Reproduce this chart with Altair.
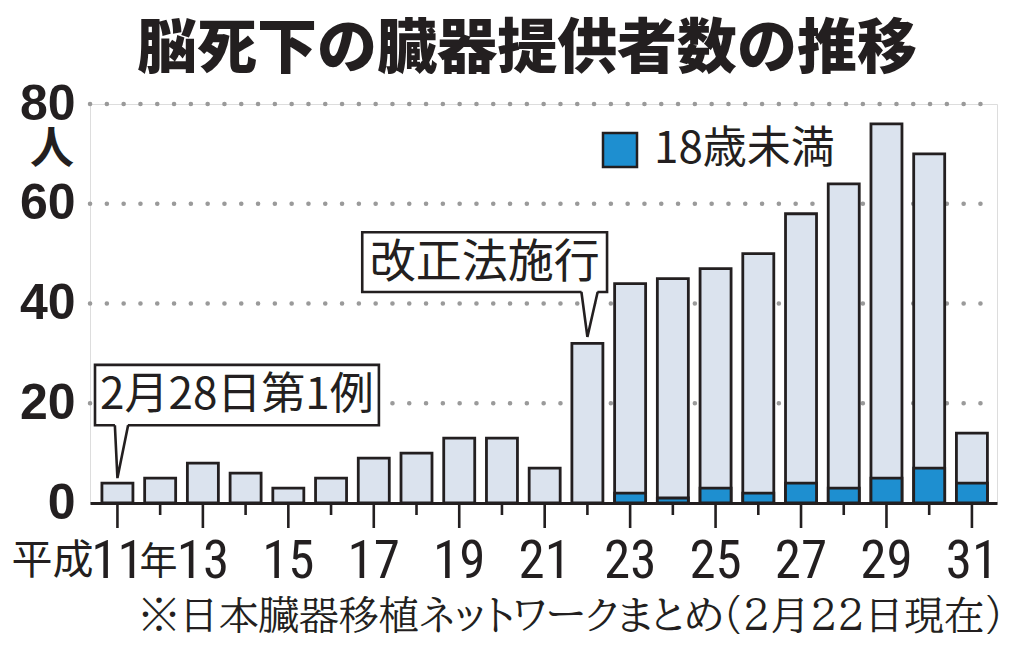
import altair as alt
import pandas as pd

# ---- data ----
years = list(range(11, 32))                       # Heisei 11 .. 31
totals = [4, 5, 8, 6, 3, 5, 9, 10, 13, 13, 7, 32, 44, 45, 47, 50, 58, 64, 76, 70, 14]
under18 = [0, 0, 0, 0, 0, 0, 0, 0, 0, 0, 0, 0, 2, 1, 3, 2, 4, 3, 5, 7, 4]
y_tick_values = [0, 20, 40, 60, 80]
grid_values = [20, 40, 60, 80]
label_years = [11, 13, 15, 17, 19, 21, 23, 25, 27, 29, 31]
label_texts = ["11", "13", "15", "17", "19", "21", "23", "25", "27", "29", "31"]
legend_label = "18歳未満"

callout_text = ["改正法施行", "2月28日第1例"]
callout_x1 = [16.73, 10.475]
callout_x2 = [22.46, 17.12]
callout_ytop = [54.3, 27.7]
callout_ybot = [42.3, 15.6]
callout_base_l = [21.86, 10.94]
callout_base_r = [22.24, 11.25]
callout_tip_x = [22.0, 11.0]
callout_tip_y = [33.3, 5.0]
callout_font = [46, 44]

TITLE = "脳死下の臓器提供者数の推移"
FOOTNOTE = "※日本臓器移植ネットワークまとめ(2月22日現在)"

DARK = "#231f20"
LIGHT = "#dbe3ee"
BLUE = "#1e8fd0"
GRID = "#9a9a9a"
JP = "Noto Sans CJK JP"
JP_HEAVY = "Noto Sans JP, Noto Sans CJK JP"
NARROW = "Roboto Condensed, Archivo Narrow, Barlow Semi Condensed, Noto Sans CJK JP"
MINCHO = "BIZ UDPMincho, BIZ UDMincho, Noto Serif JP, Noto Sans CJK JP"

W, H = 907, 399

bars_df = pd.DataFrame({"year": years, "total": totals})
u18_df = pd.DataFrame({"year": years, "u18": under18, "group": legend_label})
grid_df = pd.DataFrame({"g": grid_values})
tick_df = pd.DataFrame({"year": years})
lab_df = pd.DataFrame({"year": label_years, "t": label_texts})

box_df = pd.DataFrame({"text": callout_text, "x1": callout_x1, "x2": callout_x2,
                       "yt": callout_ytop, "yb": callout_ybot,
                       "xc": [(a + b) / 2 for a, b in zip(callout_x1, callout_x2)],
                       "yc": [(a + b) / 2 for a, b in zip(callout_ytop, callout_ybot)],
                       "fs": callout_font})
ptr_rows = []
for i in range(len(callout_text)):
    top = callout_ybot[i] + 0.45
    ptr_rows.append({"id": i, "o": 0, "x": callout_base_l[i], "ya": top, "yb": top, "yl": callout_ybot[i]})
    ptr_rows.append({"id": i, "o": 1, "x": callout_tip_x[i], "ya": top, "yb": callout_tip_y[i], "yl": callout_tip_y[i]})
    ptr_rows.append({"id": i, "o": 2, "x": callout_base_r[i], "ya": top, "yb": top, "yl": callout_ybot[i]})
ptr_df = pd.DataFrame(ptr_rows)

xs = alt.Scale(domain=[10.475, 31.47], nice=False, zero=False)
ys = alt.Scale(domain=[0, 80], nice=False)
yaxis = alt.Axis(title=None, values=y_tick_values, grid=False, domain=False, ticks=False,
                 labelFont="Liberation Sans", labelFontWeight="bold", labelFontSize=50,
                 labelColor=DARK, labelPadding=15)
xaxis = alt.Axis(title=None, labels=False, ticks=False, grid=False, domain=True,
                 domainColor=DARK, domainWidth=3, zindex=1)

grid = alt.Chart(grid_df).mark_rule(
    strokeDash=[0.1, 16.7], strokeCap="round", strokeWidth=4.5, color=GRID
).encode(y=alt.Y("g:Q", scale=ys, axis=yaxis), x=alt.value(0), x2=alt.value(W))

total_bars = alt.Chart(bars_df).mark_bar(
    size=31, fill=LIGHT, stroke=DARK, strokeWidth=2.8
).encode(
    x=alt.X("year:Q", scale=xs, axis=xaxis),
    y=alt.Y("total:Q", scale=ys, axis=yaxis),
)

u18_bars = alt.Chart(u18_df).transform_filter("datum.u18 > 0").mark_bar(
    size=31, stroke=DARK, strokeWidth=2.8, opacity=1
).encode(
    x=alt.X("year:Q", scale=xs, axis=xaxis),
    y=alt.Y("u18:Q", scale=ys, axis=yaxis),
    color=alt.Color("group:N", scale=alt.Scale(domain=[legend_label], range=[BLUE]),
                    legend=alt.Legend(title=None, orient="none", legendX=508, legendY=24,
                                      symbolType="square", symbolSize=1156,
                                      symbolStrokeColor=DARK, symbolStrokeWidth=2.5,
                                      symbolOpacity=1, labelFont=JP, labelFontSize=44,
                                      labelColor=DARK, labelOffset=12, padding=0,
                                      labelLimit=400)),
)

boxes = alt.Chart(box_df).mark_rect(fill="white", stroke=DARK, strokeWidth=2.6).encode(
    x=alt.X("x1:Q", scale=xs, axis=xaxis), x2="x2:Q", y=alt.Y("yt:Q", scale=ys, axis=yaxis), y2="yb:Q")

ptr_fill = alt.Chart(ptr_df).mark_area(fill="white", opacity=1).encode(
    x=alt.X("x:Q", scale=xs, axis=xaxis), y=alt.Y("ya:Q", scale=ys, axis=yaxis), y2="yb:Q", detail="id:N")

ptr_line = alt.Chart(ptr_df).mark_line(color=DARK, strokeWidth=2.6, strokeJoin="miter").encode(
    x=alt.X("x:Q", scale=xs, axis=xaxis), y=alt.Y("yl:Q", scale=ys, axis=yaxis), detail="id:N", order="o:Q")

box_text = alt.Chart(box_df).mark_text(font=JP, color=DARK, baseline="middle", dy=1).encode(
    x=alt.X("xc:Q", scale=xs, axis=xaxis), y=alt.Y("yc:Q", scale=ys, axis=yaxis), text="text:N",
    size=alt.Size("fs:Q", scale=None, legend=None))

ticks_long = alt.Chart(tick_df).transform_filter("datum.year % 2 == 1").mark_rule(
    color=DARK, strokeWidth=2.6).encode(
    x=alt.X("year:Q", scale=xs, axis=xaxis), y=alt.value(H), y2=alt.value(H + 25))
ticks_short = alt.Chart(tick_df).transform_filter("datum.year % 2 == 0").mark_rule(
    color=DARK, strokeWidth=2.6).encode(
    x=alt.X("year:Q", scale=xs, axis=xaxis), y=alt.value(H), y2=alt.value(H + 12))

xlabels = alt.Chart(lab_df).mark_text(font=NARROW, fontSize=53, color=DARK,
                                      baseline="alphabetic").encode(
    x=alt.X("year:Q", scale=xs, axis=xaxis), y=alt.value(H + 75), text="t:N")

first = pd.DataFrame({"year": [label_years[0]], "pre": ["平成"], "post": ["年"]})
xlab_pre = alt.Chart(first).mark_text(font=JP, fontSize=41, color=DARK, align="right",
                                      baseline="alphabetic", dx=-24, dy=-4).encode(
    x=alt.X("year:Q", scale=xs, axis=xaxis), y=alt.value(H + 75), text="pre:N")
xlab_post = alt.Chart(first).mark_text(font=JP, fontSize=38, color=DARK, align="left",
                                       baseline="alphabetic", dx=22, dy=-4).encode(
    x=alt.X("year:Q", scale=xs, axis=xaxis), y=alt.value(H + 75), text="post:N")

txt_df = pd.DataFrame({"t": [TITLE]})
title = alt.Chart(txt_df).mark_text(font=JP_HEAVY, fontSize=60, fontWeight=900, color=DARK,
                                    baseline="alphabetic").encode(
    x=alt.value(437), y=alt.value(-36), text="t:N")

unit_df = pd.DataFrame({"t": ["人"]})
unit = alt.Chart(unit_df).mark_text(font=JP, fontSize=44, fontWeight="bold", color=DARK,
                                    baseline="alphabetic").encode(
    x=alt.value(-38), y=alt.value(60), text="t:N")

foot_df = pd.DataFrame({"t": [FOOTNOTE]})
foot = alt.Chart(foot_df).mark_text(font=MINCHO, fontSize=40, color=DARK, align="right",
                                    baseline="alphabetic").encode(
    x=alt.value(913), y=alt.value(526), text="t:N")

chart = alt.layer(
    grid, total_bars, u18_bars, boxes, ptr_fill, ptr_line, box_text,
    ticks_long, ticks_short, xlabels, xlab_pre, xlab_post, title, unit, foot
).resolve_scale(color="independent").properties(
    width=W, height=H,
    autosize=alt.AutoSizeParams(type="none"),
    padding={"left": 82, "top": 96, "right": 19, "bottom": 135},
).configure_view(stroke=None).configure(background="white")

chart.save("out.html", embed_options={"renderer": "svg", "actions": False})
